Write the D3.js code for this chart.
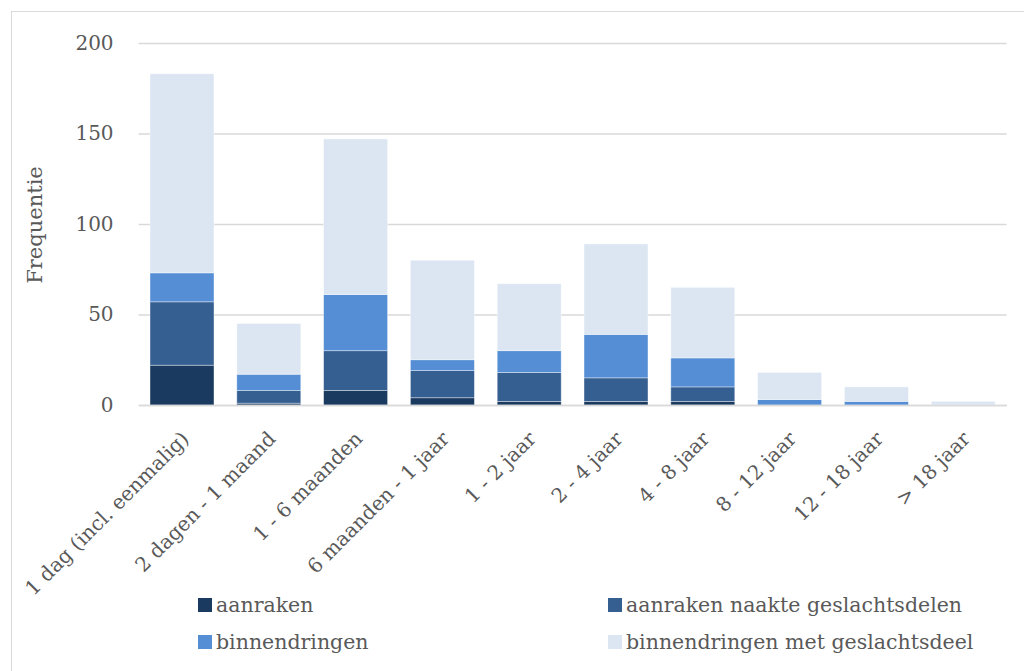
<!DOCTYPE html>
<html>
<head>
<meta charset="utf-8">
<script src="https://cdn.jsdelivr.net/npm/d3@7"></script>
<style>
  body { margin: 0; background: #fff; }
  svg { display: block; font-family: "DejaVu Serif", "Liberation Serif", serif; }
</style>
</head>
<body>
<svg id="chart"></svg>
<script>
let categories = ['1 dag (incl. eenmalig)', '2 dagen - 1 maand', '1 - 6 maanden', '6 maanden - 1 jaar',
                  '1 - 2 jaar', '2 - 4 jaar', '4 - 8 jaar', '8 - 12 jaar', '12 - 18 jaar', '> 18 jaar']
let seriesNames = ['aanraken', 'aanraken naakte geslachtsdelen', 'binnendringen', 'binnendringen met geslachtsdeel']
let aanraken = [22, 1, 8, 4, 2, 2, 2, 0, 0, 0]
let aanrakenNaakt = [35, 7, 22, 15, 16, 13, 8, 0, 0, 0]
let binnendringen = [16, 9, 31, 6, 12, 24, 16, 3, 2, 0]
let binnendringenMet = [110, 28, 86, 55, 37, 50, 39, 15, 8, 2]
let yTicks = [0, 50, 100, 150, 200]
let colors = ['#1b3a60', '#365f91', '#558ed5', '#dce6f2']

let width = 1024
let height = 671
let plotLeft = 138.6
let plotRight = 1006.6
let plotTop = 43
let plotBottom = 405

let svg = d3.select('#chart').attr('width', width).attr('height', height)

// frame round the chart area
svg.append('rect')
   .attr('x', 11.5).attr('y', 11.5)
   .attr('width', width).attr('height', height)
   .attr('fill', 'none').attr('stroke', '#d9d9d9').attr('stroke-width', 1)

let rows = categories.map((c, i) => ({
    cat: c,
    [seriesNames[0]]: aanraken[i],
    [seriesNames[1]]: aanrakenNaakt[i],
    [seriesNames[2]]: binnendringen[i],
    [seriesNames[3]]: binnendringenMet[i]
}))
let stacked = d3.stack().keys(seriesNames)(rows)

let xScale = d3.scaleBand()
               .domain(categories)
               .range([plotLeft, plotRight])
               .paddingInner(0.263)
               .paddingOuter(0.1315)

let yScale = d3.scaleLinear().domain([0, 200]).range([plotBottom, plotTop])

// gridlines + y labels
let yAxis = d3.axisLeft(yScale).tickValues(yTicks).tickSize(-(plotRight - plotLeft)).tickPadding(25)
let gy = svg.append('g').attr('transform', `translate(${plotLeft},0)`).call(yAxis)
gy.attr('font-family', null).attr('font-size', null)
gy.select('.domain').remove()
gy.selectAll('.tick line').attr('stroke', '#d9d9d9').attr('stroke-width', 1.3)
gy.selectAll('.tick text')
  .attr('fill', '#595959')
  .style('font-size', '20px')
  .attr('dy', '0.32em')

// bars
svg.append('g').selectAll('g')
   .data(stacked)
   .enter()
   .append('g')
   .attr('fill', (d, i) => colors[i])
   .selectAll('rect')
   .data(d => d)
   .enter()
   .append('rect')
   .attr('x', d => xScale(d.data.cat))
   .attr('width', xScale.bandwidth())
   .attr('y', d => yScale(d[1]))
   .attr('height', d => yScale(d[0]) - yScale(d[1]))
   .attr('stroke', '#ffffff')
   .attr('stroke-opacity', 0.5)
   .attr('stroke-width', 0.75)

// x axis (baseline + rotated labels)
let xAxis = d3.axisBottom(xScale).tickSize(0).tickPadding(0)
let gx = svg.append('g').attr('transform', `translate(0,${plotBottom})`).call(xAxis)
gx.attr('font-family', null).attr('font-size', null)
gx.select('.domain').attr('stroke', '#d9d9d9').attr('stroke-width', 1.3)
gx.selectAll('.tick text')
  .attr('fill', '#595959')
  .style('font-size', '20px')
  .attr('text-anchor', 'end')
  .attr('dy', 0)
  .attr('y', 0)
  .attr('transform', 'translate(8,35) rotate(-45)')

// y axis title
svg.append('text')
   .attr('transform', 'translate(42,225) rotate(-90)')
   .attr('text-anchor', 'middle')
   .attr('fill', '#595959')
   .style('font-size', '21px')
   .text('Frequentie')

// legend, two columns
let legend = svg.append('g').selectAll('g')
   .data(seriesNames)
   .enter()
   .append('g')
   .attr('transform', (d, i) => `translate(${i % 2 === 0 ? 198 : 608},${i < 2 ? 598 : 635})`)

legend.append('rect')
      .attr('width', 14).attr('height', 14)
      .attr('fill', (d, i) => colors[i])

legend.append('text')
      .attr('x', 18).attr('y', 14)
      .attr('fill', '#595959')
      .style('font-size', '20.5px')
      .text(d => d)
</script>
</body>
</html>
